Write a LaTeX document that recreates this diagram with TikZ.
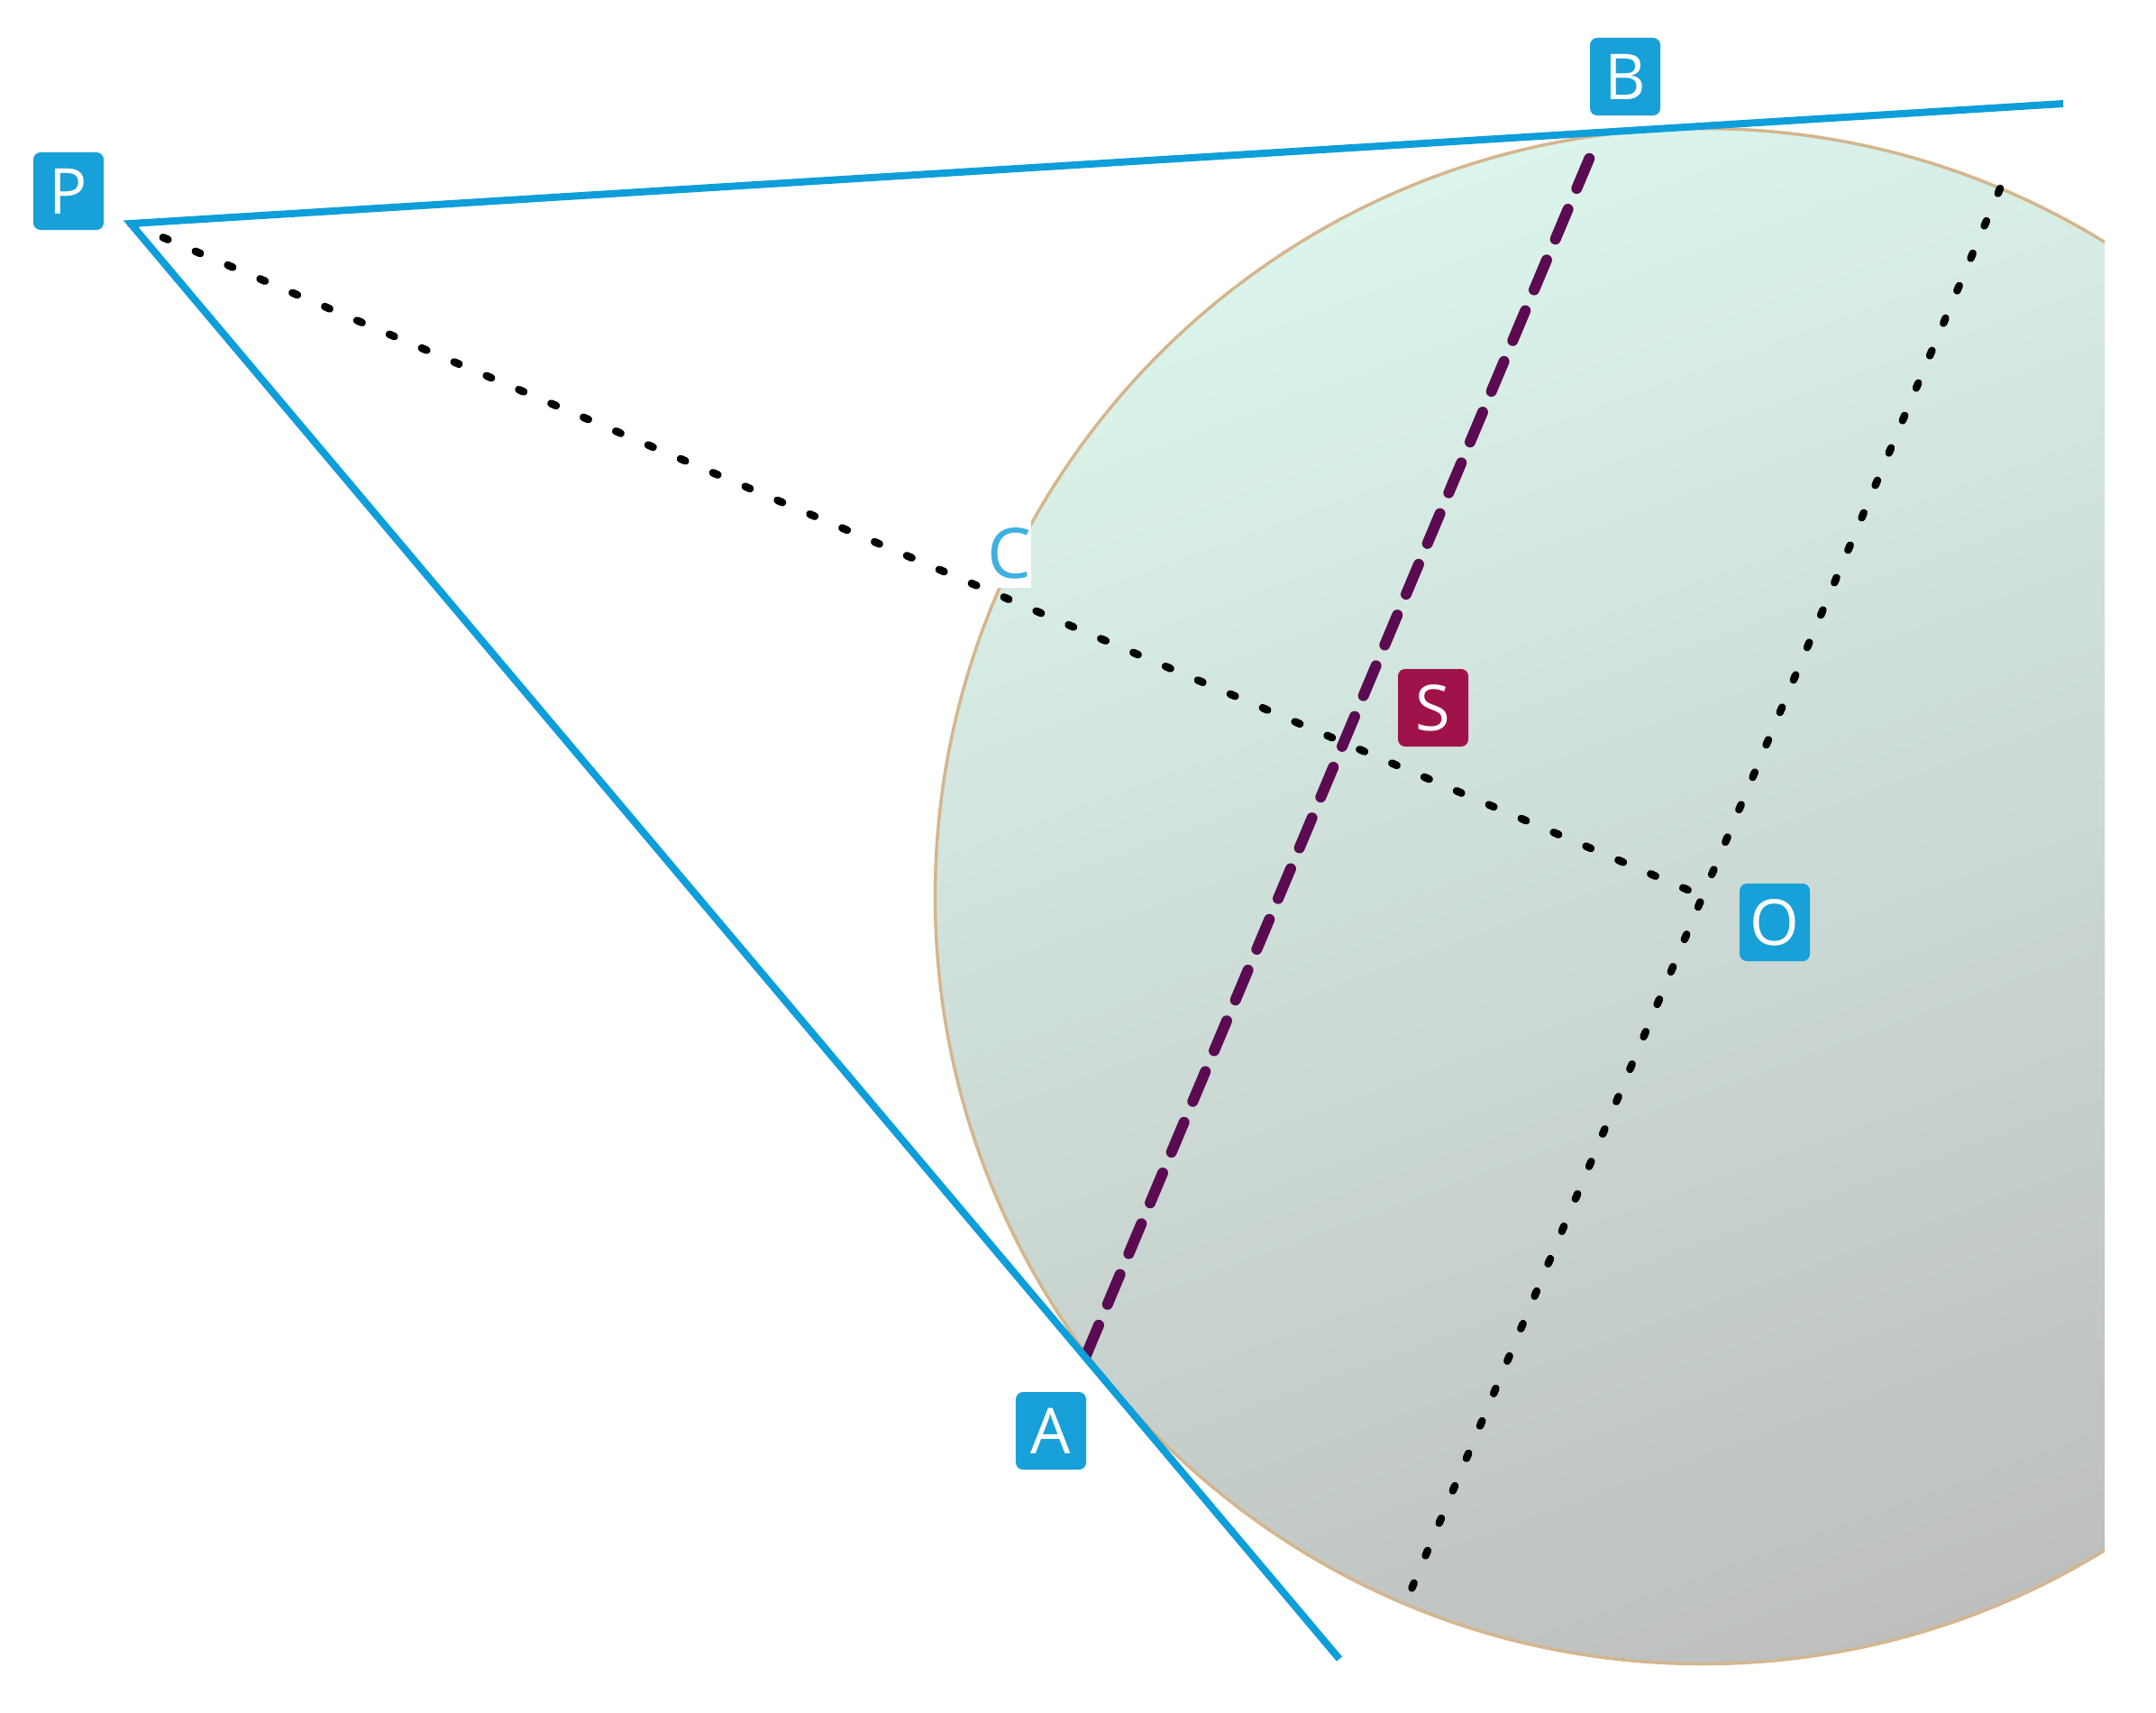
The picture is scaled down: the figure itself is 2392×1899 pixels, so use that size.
\documentclass[tikz,border=0pt]{standalone}
\usepackage{fontspec}
\setsansfont{Open Sans}
\definecolor{lineblue}{RGB}{14,158,217}
\definecolor{boxblue}{RGB}{24,160,216}
\definecolor{boxred}{RGB}{160,18,74}
\definecolor{chordpurple}{RGB}{91,11,82}
\definecolor{rimtan}{RGB}{212,182,142}
\definecolor{mint}{RGB}{219,245,236}
\definecolor{greyish}{RGB}{189,191,190}

\begin{document}
\begin{tikzpicture}[x=0.01cm, y=-0.01cm,
  tangent/.style={draw=lineblue, line width=0.08cm, line join=miter},
  dotline/.style={line width=0.085cm, line cap=round, dash pattern=on 0.06cm off 0.33cm},
  chordline/.style={chordpurple, line width=0.12cm, line cap=round, dash pattern=on 0.36cm off 0.25cm},
  ptbox/.style={fill=boxblue, text=white, rounded corners=0.08cm, inner sep=0pt,
    minimum width=0.78cm, minimum height=0.86cm, font=\sffamily\fontsize{20}{24}\selectfont}]
% Frame
\useasboundingbox (0,0) rectangle (2392,1899);

% Points
\coordinate (P) at (145,248);
\coordinate (O) at (1889,994);
\coordinate (A) at (1205,1503);
\coordinate (B) at (1772,155);
\coordinate (Tend) at (2289,115);
\coordinate (Aend) at (1486,1840);
\coordinate (D1) at (2219,209);
\coordinate (D2) at (1559,1779);

% Circle
\begin{scope}
\clip (0,0) rectangle (2335,1899);
\shade[top color=mint, bottom color=greyish, shading angle=20] (O) circle[radius=8.51cm];
\draw[rimtan, line width=0.035cm] (O) circle[radius=8.51cm];
\end{scope}

% Lines
\draw[chordline] (A) -- (B);
\draw[dotline] (P) -- (O);
\draw[dotline] (D1) -- (D2);
\draw[tangent] (Tend) -- (P) -- (Aend);

% Labels
\node[ptbox] (Pbox) at (76,212) {P};
\node[ptbox] (Bbox) at (1803,85) {B};
\node[ptbox] (Obox) at (1969,1023) {O};
\node[ptbox] (Abox) at (1166,1587) {A};
\node[ptbox, fill=boxred] (Sbox) at (1590,785) {S};
\node[fill=white, text=lineblue!80, inner sep=0pt, minimum width=0.45cm, minimum height=0.75cm,
  font=\sffamily\fontsize{22}{26}\selectfont] (Cbox) at (1120,614) {C};
\end{tikzpicture}
\end{document}
